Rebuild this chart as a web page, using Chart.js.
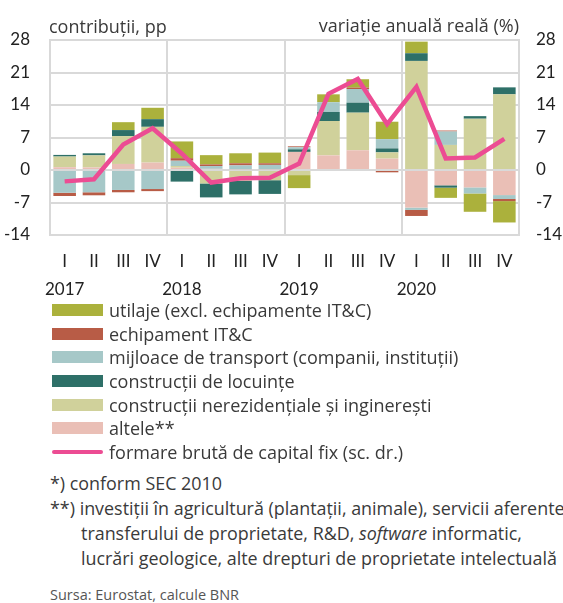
<!DOCTYPE html>
<html><head><meta charset="utf-8">
<script src="https://cdn.jsdelivr.net/npm/chart.js@4.4.0/dist/chart.umd.min.js"></script>
<style>
html,body{margin:0;padding:0;background:#fff;}
#wrap{position:relative;width:563px;height:603px;overflow:hidden;font-family:'Open Sans',Lato,sans-serif;color:#3a3a3a;}
#cv{position:absolute;left:0;top:0;width:563px;height:300px;}
.leg{position:absolute;left:52px;top:298px;font-size:18px;}
.row{display:flex;align-items:center;height:23.7px;white-space:nowrap;}
.sw{width:51px;height:12px;margin-right:6px;flex:none;}
.ln{width:51px;height:4px;border-radius:2px;margin-right:6px;flex:none;}
.notes{position:absolute;left:50px;top:471px;font-size:17.9px;line-height:25px;white-space:nowrap;}
.ind{padding-left:31px;}
.src{position:absolute;left:50px;top:585px;font-size:14.5px;color:#555;}
</style></head>
<body><div id="wrap">
<canvas id="cv" width="563" height="300"></canvas>
<div class="leg" id="leg"></div>
<div class="notes">
<div>*) conform SEC 2010</div>
<div>**) investiții în agricultură (plantații, animale), servicii aferente</div>
<div class="ind">transferului de proprietate, R&amp;D, <i>software</i> informatic,</div>
<div class="ind">lucrări geologice, alte drepturi de proprietate intelectuală</div>
</div>
<div class="src">Sursa: Eurostat, calcule BNR</div>
</div>
<script>
const quarters = ['I','II','III','IV'];
const years = ['2017','2018','2019','2020'];
const leftTitle = 'contribuții, pp';
const rightTitle = 'variație anuală reală (%)';
const yTicks = [-14,-7,0,7,14,21,28];

const altele      = [0.6, 0.55, 1.3, 1.6, 0.5, 0.25, 0.15, 0.15, 3.9, 3.15, 4.25, 2.45, -8.1, -3.3, -3.75, -5.4];
const nerez       = [2.3, 2.6, 6.0, 7.7, 0.35, -2.9, -2.3, -2.2, -1.1, 7.4, 8.1, 1.35, 23.5, 5.4, 11.05, 16.3];
const locuinte    = [0.35, 0.45, 1.3, 1.65, -2.5, -3.0, -2.95, -2.95, 0.55, 1.95, 2.15, 0.85, 1.65, -0.5, 0.55, 1.5];
const transport   = [-4.9, -4.8, -4.3, -4.1, 1.15, 0.6, 0.85, 0.95, 0.45, 2.1, 2.95, 2.0, -0.5, 2.9, -1.3, -0.85];
const itc         = [-0.7, -0.65, -0.5, -0.45, 0.55, 0.35, 0.45, 0.35, 0.2, 0, 0.3, -0.5, -1.3, 0.2, 0, -0.45];
const utilaje     = [0, 0, 1.7, 2.45, 3.6, 2.0, 2.15, 2.3, -2.8, 1.7, 1.8, 3.75, 2.5, -2.2, -3.95, -4.6];
const fbcf        = [-2.45, -2.0, 5.5, 9.0, 3.5, -2.7, -1.8, -1.65, 1.4, 16.4, 19.6, 9.9, 17.9, 2.5, 2.7, 6.7];

const labels = [];
years.forEach(y => quarters.forEach((q, i) => labels.push(i === 0 ? [q, y] : q)));

const series = [
  {name:'altele**', data:altele, color:'#eabfb6'},
  {name:'construcții nerezidențiale și inginerești', data:nerez, color:'#d0d19b'},
  {name:'construcții de locuințe', data:locuinte, color:'#2e7068'},
  {name:'mijloace de transport (companii, instituții)', data:transport, color:'#a6c8c8'},
  {name:'echipament IT&C', data:itc, color:'#b85c46'},
  {name:'utilaje (excl. echipamente IT&C)', data:utilaje, color:'#abb13c'}
];
const lineName = 'formare brută de capital fix (sc. dr.)';
const lineColor = '#ec4c93';

// HTML legend (reverse order)
const leg = document.getElementById('leg');
series.slice().reverse().forEach(s => {
  const r = document.createElement('div'); r.className = 'row';
  r.innerHTML = '<span class="sw" style="background:' + s.color + '"></span><span></span>';
  r.lastChild.textContent = s.name; leg.appendChild(r);
});
{
  const r = document.createElement('div'); r.className = 'row';
  r.innerHTML = '<span class="ln" style="background:' + lineColor + '"></span><span></span>';
  r.lastChild.textContent = lineName; leg.appendChild(r);
}

const gridCol = '#d9d9d9';
const tickFont = {family:"Lato,'Open Sans',sans-serif", size:17, lineHeight:1.65};

const titles = {
  id:'titles',
  afterDraw(chart){
    const {ctx, chartArea} = chart;
    ctx.save();
    ctx.font = '18px "Open Sans", Lato, sans-serif';
    ctx.fillStyle = '#3a3a3a';
    ctx.textBaseline = 'alphabetic';
    ctx.textAlign = 'left';
    ctx.fillText(leftTitle, chartArea.left - 1, chartArea.top - 7.5);
    ctx.textAlign = 'right';
    ctx.fillText(rightTitle, chartArea.right, chartArea.top - 8);
    ctx.restore();
  }
};

const datasets = series.map(s => ({
  type:'bar', label:s.name, data:s.data, backgroundColor:s.color,
  stack:'s', yAxisID:'y', order:1, barPercentage:0.77, categoryPercentage:1,
  borderWidth:0
}));
datasets.push({
  type:'line', label:lineName, data:fbcf, borderColor:lineColor, backgroundColor:lineColor,
  borderWidth:4.5, pointRadius:0, tension:0, yAxisID:'y2', order:0
});

new Chart(document.getElementById('cv'), {
  data:{labels, datasets},
  plugins:[titles],
  options:{
    responsive:false, animation:false,
    layout:{padding:{top:40, left:0, right:0, bottom:0}},
    plugins:{legend:{display:false}, tooltip:{enabled:false}},
    scales:{
      x:{
        type:'category', offset:true, stacked:true,
        grid:{offset:true, drawTicks:false, lineWidth:2,
              color:c => (c.index !== undefined && c.index % 4 === 0) ? gridCol : 'rgba(0,0,0,0)'},
        border:{display:false},
        ticks:{font:tickFont, color:'#222', padding:12, maxRotation:0, autoSkip:false},
        afterFit(s){ s.height = 65; }
      },
      y:{
        position:'left', stacked:true, min:-14, max:28,
        afterBuildTicks(s){ s.ticks = yTicks.map(v => ({value:v})); },
        grid:{color:gridCol, lineWidth:2, drawTicks:false},
        border:{display:true, color:gridCol, width:2},
        ticks:{font:tickFont, color:'#222', padding:20},
        afterFit(s){ s.width = 50; }
      },
      y2:{
        position:'right', min:-14, max:28,
        afterBuildTicks(s){ s.ticks = yTicks.map(v => ({value:v})); },
        grid:{display:false, drawTicks:false},
        border:{display:true, color:gridCol, width:2},
        ticks:{font:tickFont, color:'#222', padding:17},
        afterFit(s){ s.width = 44; }
      }
    }
  }
});
</script>
</body></html>
